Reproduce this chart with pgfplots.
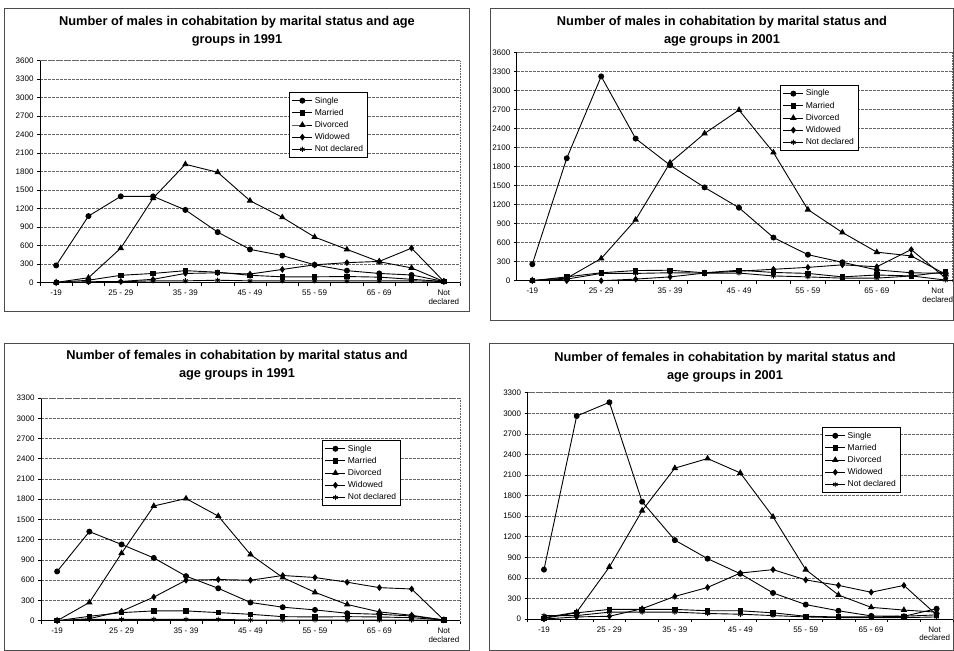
\documentclass[border=0pt]{standalone}
\usepackage{fontspec}
\setmainfont{Liberation Sans}
\usepackage{pgfplots}
\pgfplotsset{compat=1.18}
\usepackage{pgfplotstable}

% columns: category index, Single, Married, Divorced, Widowed, Not declared
\pgfplotstableread{
x S M D W N
0 280 5 5 0 0
1 1080 40 80 15 10
2 1400 120 560 20 15
3 1400 150 1370 55 30
4 1180 195 1920 150 30
5 820 170 1790 160 40
6 540 120 1330 140 30
7 440 95 1060 215 30
8 290 95 740 290 30
9 195 100 540 325 30
10 150 90 340 345 30
11 125 55 240 560 30
12 20 20 20 20 20
}\malesA

\pgfplotstableread{
x S M D W N
0 260 0 5 0 0
1 1930 60 40 0 25
2 3220 125 350 0 115
3 2240 160 960 25 115
4 1820 165 1860 60 125
5 1470 125 2320 120 120
6 1150 165 2690 150 120
7 680 130 2020 180 75
8 410 115 1120 210 60
9 290 60 760 250 40
10 170 90 450 220 40
11 125 75 390 490 75
12 115 140 100 40 10
}\malesB

\pgfplotstableread{
x S M D W N
0 730 0 0 0 0
1 1320 65 270 30 20
2 1130 120 1000 140 20
3 930 145 1700 350 20
4 660 145 1810 600 20
5 480 120 1550 610 20
6 270 95 980 600 10
7 200 60 640 670 10
8 160 55 420 640 10
9 110 60 240 570 10
10 95 55 130 490 10
11 70 45 80 470 10
12 10 10 10 10 10
}\femalesA

\pgfplotstableread{
x S M D W N
0 720 10 20 0 50
1 2960 90 100 30 50
2 3160 140 760 40 100
3 1710 140 1580 150 100
4 1150 140 2200 330 100
5 880 120 2340 460 80
6 660 120 2130 670 70
7 380 90 1490 720 50
8 210 40 720 570 30
9 120 30 350 490 20
10 45 30 170 390 20
11 40 40 130 490 20
12 150 60 100 60 30
}\femalesB

\pgfplotsset{
  panel/.style={
    scale only axis, anchor=south west,
    axis lines=left, axis line style={-, black, line width=0.7pt},
    xmin=-0.5, xmax=12.5, ymin=0,
    xtick={0,2,...,10},
    xticklabels={-19, 25 - 29, 35 - 39, 45 - 49, 55 - 59, 65 - 69},
    extra x ticks={12},
    extra x tick labels={{Not\\declared}},
    minor xtick={-0.5,0.5,...,12.5},
    major x tick style={draw=none},
    tick align=outside, major tick length=3pt, minor tick length=3pt,
    tick style={black, line width=0.6pt},
    ymajorgrids,
    major grid style={black!60, dash pattern=on 3pt off 1pt, line width=0.55pt},
    tick label style={font=\fontsize{8}{8.5}\selectfont},
    xticklabel style={align=center, anchor=north, yshift=-1pt},
    /pgf/number format/assume math mode=true,
    /pgf/number format/set thousands separator={},
    legend style={draw=black, line width=0.7pt, fill=white,
      font=\fontsize{8.5}{10}\selectfont, inner sep=2.5pt, row sep=0.5pt,
      anchor=north west, cells={anchor=west}},
    legend image code/.code={
      \draw[mark repeat=2, mark phase=2]
        plot coordinates {(0pt,0pt) (10pt,0pt) (20pt,0pt)};},
    every axis plot/.append style={black, line width=0.9pt, mark size=2.5pt,
      mark options={solid, fill=black}},
    after end axis/.code={
      \draw[black!60, densely dotted, line width=0.6pt]
        (rel axis cs:0,1) -- (rel axis cs:1,1) -- (rel axis cs:1,0);},
  },
}

\newcommand{\fiveseries}[1]{%
  \addplot[mark=*] table[x=x, y=S] {#1}; \addlegendentry{Single}
  \addplot[mark=square*, mark size=2.2pt] table[x=x, y=M] {#1}; \addlegendentry{Married}
  \addplot[mark=triangle*, mark size=2.9pt] table[x=x, y=D] {#1}; \addlegendentry{Divorced}
  \addplot[mark=diamond*, mark size=2.7pt] table[x=x, y=W] {#1}; \addlegendentry{Widowed}
  \addplot[mark=asterisk, mark size=2.6pt] table[x=x, y=N] {#1}; \addlegendentry{Not declared}
}

\begin{document}
\begin{tikzpicture}
\useasboundingbox (0pt,0pt) rectangle (954pt,651pt);

% panel frames
\draw[black!70, line width=0.7pt] (4pt,643pt) rectangle (469pt,340pt);
\draw[black!70, line width=0.7pt] (490pt,643pt) rectangle (953pt,331pt);
\draw[black!70, line width=0.7pt] (4pt,308pt) rectangle (469pt,1pt);
\draw[black!70, line width=0.7pt] (489pt,308pt) rectangle (953pt,1pt);

% titles
\begin{scope}[every node/.style={align=center, font=\fontsize{12.8}{18}\selectfont\bfseries}]
\node at (237pt,620pt) {Number of males in cohabitation by marital status and age\\groups in 1991};
\node at (722pt,620pt) {Number of males in cohabitation by marital status and\\age groups in 2001};
\node at (237pt,286pt) {Number of females in cohabitation by marital status and\\age groups in 1991};
\node at (725pt,283.5pt) {Number of females in cohabitation by marital status and\\age groups in 2001};
\end{scope}

\begin{axis}[panel, at={(40pt,368.3pt)}, width=420pt, height=222pt,
  ymax=3600, ytick={0,300,...,3600},
  legend style={at={(0.593,0.859)}}]
\fiveseries{\malesA}
\end{axis}

\begin{axis}[panel, at={(516.8pt,370.3pt)}, width=435.8pt, height=228.4pt,
  xmin=-0.45, xmax=12.2,
  ymax=3600, ytick={0,300,...,3600},
  extra x tick style={xticklabel style={xshift=-8pt}},
  legend style={at={(0.604,0.857)}}]
\fiveseries{\malesB}
\end{axis}

\begin{axis}[panel, at={(41pt,30.3pt)}, width=419pt, height=222.7pt,
  ymax=3300, ytick={0,300,...,3300},
  legend style={at={(0.671,0.811)}}]
\fiveseries{\femalesA}
\end{axis}

\begin{axis}[panel, at={(527.6pt,32pt)}, width=425.4pt, height=226.3pt,
  ymax=3300, ytick={0,300,...,3300},
  extra x tick style={xticklabel style={xshift=-2pt}},
  legend style={at={(0.692,0.848)}}]
\fiveseries{\femalesB}
\end{axis}
\end{tikzpicture}
\end{document}
